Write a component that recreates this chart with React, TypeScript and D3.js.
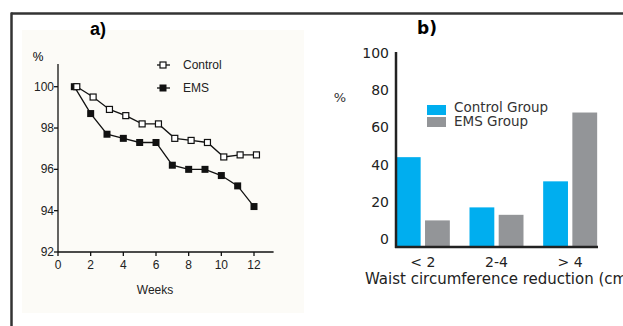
import * as d3 from "d3";

// panel a: weight (% of baseline) over weeks
const weeks = [1, 2, 3, 4, 5, 6, 7, 8, 9, 10, 11, 12];
const controlPct = [100, 99.5, 98.9, 98.6, 98.2, 98.2, 97.5, 97.4, 97.3, 96.6, 96.7, 96.7];
const emsPct = [100, 98.7, 97.7, 97.5, 97.3, 97.3, 96.2, 96.0, 96.0, 95.7, 95.2, 94.2];
const weekTicks = [0, 2, 4, 6, 8, 10, 12];
const pctTicks = [92, 94, 96, 98, 100];

// panel b: waist circumference reduction distribution
const reductionCats = ["< 2", "2-4", "> 4"];
const groupNames = ["Control Group", "EMS Group"];
const controlGroup = [44, 17, 31];
const emsGroup = [10, 13, 68];
const barTicks = [0, 20, 40, 60, 80, 100];
const groupColors = ["#00aeef", "#939598"];

const narrow = "'Liberation Sans Narrow', 'Arial Narrow', 'Liberation Sans', sans-serif";
const wide = "Verdana, 'DejaVu Sans', sans-serif";

const PanelA = () => {
  const x = d3.scaleLinear().domain([0, 12]).range([58, 254]);
  const y = d3.scaleLinear().domain([92, 100]).range([252, 86.7]);
  const off = 0.15; // control markers are nudged right a little
  const lineE = d3
    .line<number>()
    .x((_, i) => x(weeks[i]))
    .y((d) => y(d));
  const lineC = d3
    .line<number>()
    .x((_, i) => x(weeks[i] + off))
    .y((d) => y(d));
  const m = 7;
  return (
    <g>
      <rect x={22} y={30} width={282} height={283} fill="#fcfbf7" />
      <text x={98} y={35} fontFamily="'Liberation Sans', Arial, sans-serif" fontWeight="bold" fontSize={18} textAnchor="middle">
        a)
      </text>
      <text x={38} y={61} fontFamily={narrow} fontSize={12} textAnchor="middle">%</text>
      {/* y axis */}
      <line x1={x(0)} x2={x(0)} y1={y(101.1)} y2={y(92)} stroke="#111" strokeWidth={1.3} />
      {pctTicks.map((t) => (
        <g key={t}>
          <line x1={x(0) - 4} x2={x(0)} y1={y(t)} y2={y(t)} stroke="#111" strokeWidth={1.3} />
          <text x={x(0) - 4} y={y(t) + 4} fontFamily={narrow} fontSize={12} textAnchor="end" fill="#222">
            {t}
          </text>
        </g>
      ))}
      {/* x axis */}
      <line x1={x(0)} x2={x(13.2)} y1={y(92)} y2={y(92)} stroke="#111" strokeWidth={1.3} />
      {weekTicks.map((t) => (
        <g key={t}>
          <line x1={x(t)} x2={x(t)} y1={y(92)} y2={y(92) + 4} stroke="#111" strokeWidth={1.3} />
          <text x={x(t)} y={y(92) + 17} fontFamily={narrow} fontSize={12} textAnchor="middle" fill="#222">
            {t}
          </text>
        </g>
      ))}
      <text x={155} y={294} fontFamily={narrow} fontSize={12} textAnchor="middle" fill="#222">
        Weeks
      </text>
      {/* series */}
      <path d={lineE(emsPct) || ""} fill="none" stroke="#111" strokeWidth={1.3} />
      <path d={lineC(controlPct) || ""} fill="none" stroke="#111" strokeWidth={1.3} />
      {emsPct.map((v, i) => (
        <rect key={"e" + i} x={x(weeks[i]) - m / 2} y={y(v) - m / 2} width={m} height={m} fill="#111" />
      ))}
      {controlPct.map((v, i) => (
        <rect
          key={"c" + i}
          x={x(weeks[i] + off) - m / 2 + 0.5}
          y={y(v) - m / 2 + 0.5}
          width={m - 1}
          height={m - 1}
          fill="#fff"
          stroke="#111"
          strokeWidth={1.2}
        />
      ))}
      {/* legend */}
      <line x1={157} x2={170} y1={65} y2={65} stroke="#111" strokeWidth={1.3} />
      <rect x={160} y={62} width={6} height={6} fill="#fff" stroke="#111" strokeWidth={1.2} />
      <text x={183} y={69} fontFamily={narrow} fontSize={12} fill="#222">Control</text>
      <line x1={157} x2={170} y1={88} y2={88} stroke="#111" strokeWidth={1.3} />
      <rect x={159.5} y={84.5} width={7} height={7} fill="#111" />
      <text x={183} y={92} fontFamily={narrow} fontSize={12} fill="#222">EMS</text>
    </g>
  );
};

const PanelB = () => {
  const y = d3.scaleLinear().domain([-4.3, 100]).range([247, 53]);
  const x0 = d3.scaleBand().domain(reductionCats).range([386, 607]);
  const x1 = d3.scaleBand().domain(groupNames).range([0, 54]).paddingInner(0.15);
  const axisX = 396;
  const base = y(-4.3);
  return (
    <g>
      <text x={427} y={34} fontFamily={wide} fontWeight="bold" fontSize={17} textAnchor="middle">
        b)
      </text>
      <text x={340} y={102} fontFamily={wide} fontSize={13} textAnchor="middle" fill="#333">%</text>
      {barTicks.map((t) => (
        <text key={t} x={389} y={y(t) + 5} fontFamily={wide} fontSize={14} textAnchor="end" fill="#222">
          {t}
        </text>
      ))}
      {reductionCats.map((c, i) => (
        <g key={c} transform={`translate(${x0(c)! + (x0.bandwidth() - 54) / 2},0)`}>
          {[controlGroup[i], emsGroup[i]].map((v, j) => (
            <rect
              key={j}
              x={x1(groupNames[j])}
              y={y(v)}
              width={x1.bandwidth()}
              height={base - y(v)}
              fill={groupColors[j]}
            />
          ))}
          <text x={27} y={267} fontFamily={wide} fontSize={14} textAnchor="middle" fill="#222">
            {c}
          </text>
        </g>
      ))}
      <line x1={axisX} x2={axisX} y1={y(100) - 1} y2={base + 1} stroke="#222" strokeWidth={2.5} />
      <line x1={axisX - 1} x2={598} y1={base} y2={base} stroke="#222" strokeWidth={2.5} />
      {groupNames.map((g, j) => (
        <g key={g}>
          <rect x={427} y={105 + j * 12} width={19} height={10} fill={groupColors[j]} />
          <text x={454} y={112 + j * 14} fontFamily={wide} fontSize={13.5} fill="#333">
            {g}
          </text>
        </g>
      ))}
      <text x={365} y={284} fontFamily={wide} fontSize={15} fill="#222">
        Waist circumference reduction (cm)
      </text>
    </g>
  );
};

export default function App() {
  return (
    <svg
      width={623}
      height={326}
      style={{ position: "absolute", left: 0, top: 0, background: "#fff" }}
    >
      <rect x={0} y={0} width={623} height={326} fill="#fff" />
      <line x1={11} x2={623} y1={13.5} y2={13.5} stroke="#333" strokeWidth={2.5} />
      <line x1={11.5} x2={11.5} y1={12.5} y2={326} stroke="#333" strokeWidth={2.5} />
      <PanelA />
      <PanelB />
    </svg>
  );
}
